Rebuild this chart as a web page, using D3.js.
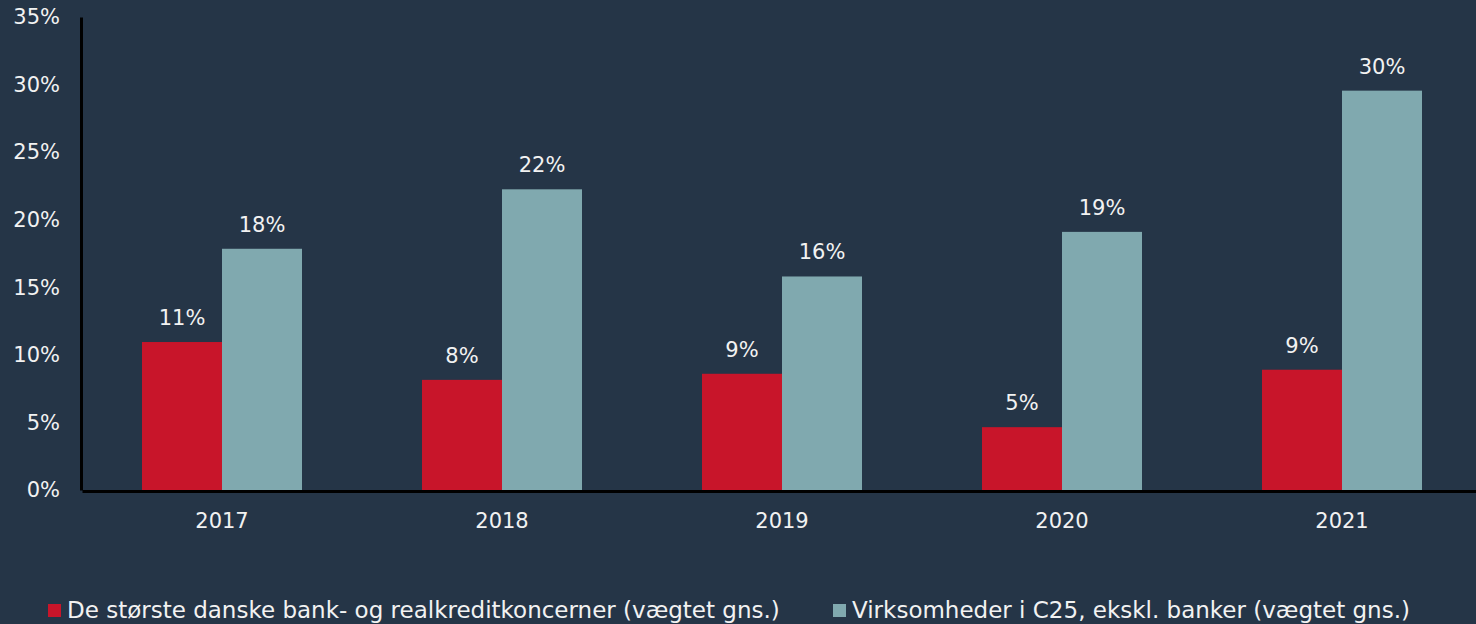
<!DOCTYPE html>
<html>
<head>
<meta charset="utf-8">
<script src="https://cdn.jsdelivr.net/npm/d3@7"></script>
<style>
  html, body { margin: 0; padding: 0; background: #253547; overflow: hidden; }
  svg text { font-family: "DejaVu Sans", "Open Sans", sans-serif; fill: #f2f2f2; }
</style>
</head>
<body>
<div id="container"></div>
<script>
const years = ["2017", "2018", "2019", "2020", "2021"];
const seriesNames = [
  "De største danske bank- og realkreditkoncerner (vægtet gns.)",
  "Virksomheder i C25, ekskl. banker (vægtet gns.)"
];
const banks = [10.95, 8.15, 8.6, 4.65, 8.9];
const c25 = [17.85, 22.25, 15.8, 19.1, 29.55];
const yTicks = [0, 5, 10, 15, 20, 25, 30, 35];
const colors = ["#c8152a", "#80a9af"];

const width = 1476, height = 624;
const svg = d3.select("#container")
  .append("svg")
    .attr("width", width)
    .attr("height", height);

// scales
const x0 = d3.scaleBand()
  .domain(years)
  .range([82, 1482])
  .paddingInner(3 / 7)
  .paddingOuter(3 / 14);

const x1 = d3.scaleBand()
  .domain([0, 1])
  .range([0, x0.bandwidth()]);

const y = d3.scaleLinear()
  .domain([0, 35])
  .range([490, 17]);

const rows = years.map((yr, i) => ({ year: yr, vals: [banks[i], c25[i]] }));

// bars
const groups = svg.append("g").selectAll("g")
  .data(rows)
  .join("g")
    .attr("transform", d => `translate(${x0(d.year)},0)`);

groups.selectAll("rect")
  .data(d => d.vals.map((v, k) => ({ k, v })))
  .join("rect")
    .attr("x", d => x1(d.k))
    .attr("y", d => y(d.v))
    .attr("width", x1.bandwidth())
    .attr("height", d => y(0) - y(d.v))
    .attr("fill", d => colors[d.k]);

groups.selectAll("text")
  .data(d => d.vals.map((v, k) => ({ k, v })))
  .join("text")
    .attr("x", d => x1(d.k) + x1.bandwidth() / 2)
    .attr("y", d => y(d.v) - 17)
    .attr("text-anchor", "middle")
    .style("font-size", "21px")
    .text(d => Math.round(d.v) + "%");

// y axis
const yAxis = svg.append("g")
  .attr("transform", "translate(81,0)")
  .call(d3.axisLeft(y).tickValues(yTicks).tickSize(0).tickPadding(21).tickFormat(d => d + "%"));
yAxis.select(".domain").attr("stroke", "#000").attr("stroke-width", 3);
yAxis.selectAll("text").style("font-size", "21px").attr("fill", "#f2f2f2");

// x axis
const xAxis = svg.append("g")
  .attr("transform", "translate(0,491)")
  .call(d3.axisBottom(x0).tickSize(0).tickPadding(22));
xAxis.select(".domain").attr("stroke", "#000").attr("stroke-width", 3);
xAxis.selectAll("text").style("font-size", "21px").attr("fill", "#f2f2f2");

// legend
const legendX = [48, 833];
const legend = svg.append("g").selectAll("g")
  .data(seriesNames)
  .join("g")
    .attr("transform", (d, i) => `translate(${legendX[i]},604)`);
legend.append("rect")
  .attr("width", 13)
  .attr("height", 13)
  .attr("fill", (d, i) => colors[i]);
legend.append("text")
  .attr("x", 19)
  .attr("y", 14)
  .style("font-size", "23px")
  .text(d => d);
</script>
</body>
</html>
